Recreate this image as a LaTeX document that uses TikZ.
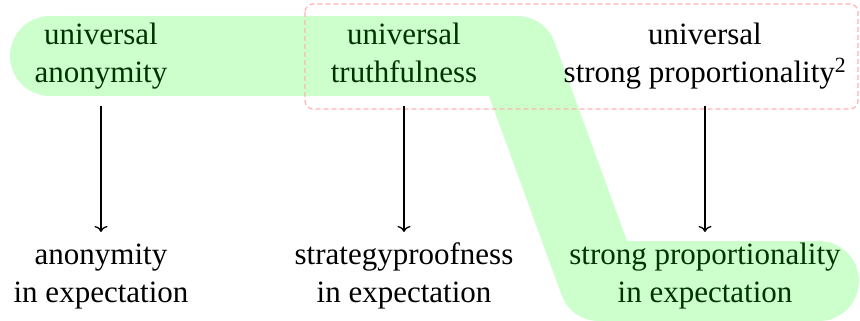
\documentclass[tikz,border=0pt]{standalone}
\usepackage{fontspec}
\setmainfont{Liberation Serif}
\usetikzlibrary{arrows.meta}
\definecolor{dkgreen}{RGB}{0,51,0}
\begin{document}
\begin{tikzpicture}[x=1pt,y=-1pt,
  lbl/.style={align=center,inner sep=0pt,font=\fontsize{31}{38}\selectfont},
  hl/.style={text=dkgreen},
  imp/.style={-{To[length=6pt,width=13pt]},line width=1.3pt}]
\useasboundingbox (0,0) rectangle (860,321);
% highlight band
\draw[green!20, line width=80pt, line cap=round, line join=round]
  (50,56) -- (517,56) -- (599,281) -- (819,281);
% dashed group
\draw[red!30, line width=1.2pt, dash pattern=on 5pt off 3pt, rounded corners=8pt]
  (305,4) rectangle (858,109);
% top row
\node[lbl,hl,anchor=base] (ua) at (101,82) {universal\\anonymity};
\node[lbl,hl,anchor=base] (ut) at (404,82) {universal\\truthfulness};
\node[lbl,anchor=base] (usp) at (705,82) {universal\\strong proportionality\textsuperscript{2}};
% bottom row
\node[lbl,anchor=base] (ae) at (101,302) {anonymity\\in expectation};
\node[lbl,anchor=base] (spe) at (404,302) {strategyproofness\\in expectation};
\node[lbl,hl,anchor=base] (spp) at (705,302) {strong proportionality\\in expectation};
% arrows
\coordinate (a1s) at (101,106); \coordinate (a1e) at (101,232);
\draw[imp] (ua.south |- a1s) -- (ae.north |- a1e);
\draw[imp] (ut.south |- a1s) -- (spe.north |- a1e);
\draw[imp] (usp.south |- a1s) -- (spp.north |- a1e);
\end{tikzpicture}
\end{document}
